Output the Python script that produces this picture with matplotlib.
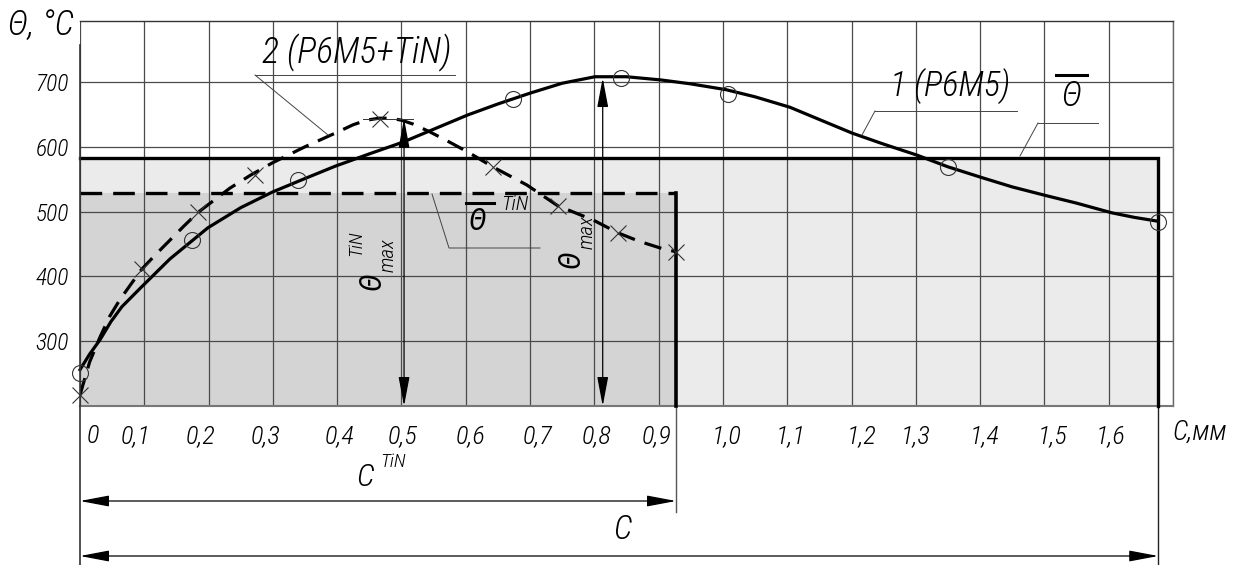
import matplotlib
matplotlib.use('Agg')
import matplotlib.pyplot as plt
from matplotlib import font_manager, transforms
from matplotlib.lines import Line2D

# ---------------- data ----------------
x_grid = [0.0, 0.1, 0.2, 0.3, 0.4, 0.5, 0.6, 0.7, 0.8, 0.9, 1.0,
          1.1, 1.2, 1.3, 1.4, 1.5, 1.6, 1.7]
x_tick_pos = [0.020, 0.086, 0.187, 0.288, 0.404, 0.501, 0.607, 0.711, 0.804,
              0.897, 1.006, 1.106, 1.216, 1.300, 1.407, 1.512, 1.603]
x_tick_labels = ['0', '0,1', '0,2', '0,3', '0,4', '0,5', '0,6', '0,7', '0,8',
                 '0,9', '1,0', '1,1', '1,2', '1,3', '1,4', '1,5', '1,6']
y_ticks = [200, 300, 400, 500, 600, 700]
y_tick_labels = ['', '300', '400', '500', '600', '700']

# curve 1 (Р6М5) - solid line and measured points (circles)
c1_line_x = [0.000, 0.015, 0.031, 0.048, 0.065, 0.096, 0.140, 0.199, 0.250,
             0.299, 0.350, 0.397, 0.450, 0.502, 0.550, 0.603, 0.650, 0.701,
             0.750, 0.801, 0.850, 0.904, 0.950, 1.005, 1.050, 1.104, 1.150,
             1.201, 1.250, 1.302, 1.350, 1.404, 1.450, 1.505, 1.550, 1.605,
             1.640, 1.677]
c1_line_y = [256, 280, 302, 330, 353, 384, 427, 475, 506,
             530, 551, 570, 589, 607, 627, 649, 666, 683,
             698, 708, 708, 703, 697, 688, 677, 661, 642,
             621, 604, 587, 569, 552, 538, 524, 513, 498,
             491, 485]
c1_pts_x = [0.000, 0.174, 0.339, 0.673, 0.841, 1.008, 1.350, 1.677]
c1_pts_y = [251, 456, 549, 674, 706, 681, 569, 484]

# curve 2 (Р6М5+TiN) - dashed line and measured points (crosses)
c2_line_x = [0.000, 0.015, 0.031, 0.046, 0.062, 0.080, 0.096, 0.118, 0.140,
             0.162, 0.184, 0.233, 0.265, 0.299, 0.350, 0.397, 0.425, 0.446,
             0.465, 0.482, 0.500, 0.518, 0.544, 0.575, 0.603, 0.642, 0.695,
             0.743, 0.798, 0.837, 0.870, 0.905, 0.927]
c2_line_y = [217, 268, 306, 338, 364, 389, 411, 434, 456,
             478, 499, 536, 556, 575, 600, 621, 634, 641,
             644, 644, 641, 635, 623, 607, 592, 569, 541,
             509, 487, 467, 454, 443, 438]
c2_pts_x = [0.000, 0.096, 0.184, 0.272, 0.467, 0.642, 0.743, 0.837, 0.927]
c2_pts_y = [217, 411, 499, 556, 643, 569, 509, 467, 438]

theta_mean = 583          # mean temperature, Р6М5
theta_mean_tin = 529      # mean temperature, Р6М5+TiN
c_len = 1.677             # contact length C
c_len_tin = 0.927         # contact length C^TiN
theta_max_x = 0.813
theta_max = 706
theta_max_tin_x = 0.504
theta_max_tin = 643

# ---------------- fonts ----------------
avail = {f.name for f in font_manager.fontManager.ttflist}
FONT = 'DejaVu Sans'
for cand in ['Liberation Sans Narrow', 'Roboto Condensed', 'DejaVu Sans Condensed',
             'Open Sans Condensed', 'DejaVu Sans']:
    if cand in avail:
        FONT = cand
        break
plt.rcParams['font.family'] = [FONT, 'DejaVu Sans']
plt.rcParams['font.style'] = 'italic'
plt.rcParams['font.weight'] = 'light'

W, H = 1240, 565
fig = plt.figure(figsize=(W / 100, H / 100), dpi=100)
ax = fig.add_axes([80 / W, 1 - 406 / H, 1093 / W, 385 / H])
ax.set_xlim(0, 1.7)
ax.set_ylim(200, 794)
ax.xaxis.remove_overlapping_locs = False


def fline(xs, ys, **kw):
    fig.add_artist(Line2D([x / W for x in xs], [1 - y / H for y in ys],
                          transform=fig.transFigure, **kw))


def ftext(px, py, s, **kw):
    kw.setdefault('ha', 'center')
    kw.setdefault('va', 'center')
    kw.setdefault('fontweight', 'light')
    fig.text(px / W, 1 - py / H, s, fontstyle='italic', **kw)


# grid & ticks
ax.set_xticks(x_grid)
ax.set_xticklabels([])
ax.set_xticks(x_tick_pos, x_tick_labels, minor=True)
ax.set_yticks(y_ticks, y_tick_labels)
ax.tick_params(axis='x', which='both', length=0)
ax.tick_params(axis='x', which='minor', pad=13, labelsize=19)
ax.tick_params(axis='y', length=0, pad=8, labelsize=17)
ax.grid(True, which='major', color='#4a4a4a', lw=0.9)
for lab in ax.get_xticklabels(minor=True) + ax.get_yticklabels():
    lab.set_fontstyle('italic')
    lab.set_fontweight('light')

ax.spines['left'].set_visible(False)
ax.spines['top'].set_color('#333333')
ax.spines['top'].set_linewidth(1.0)
ax.spines['right'].set_color('#666666')
ax.spines['right'].set_linewidth(1.0)
ax.spines['bottom'].set_color('#777777')
ax.spines['bottom'].set_linewidth(1.5)

# filled regions
ax.fill_between([0, c_len], 200, theta_mean, color='#ebebeb', lw=0, zorder=0.5)
ax.fill_between([0, c_len_tin], 200, theta_mean_tin, color='#d4d4d4', lw=0, zorder=0.6)

# mean lines (rectangles)
ax.plot([0, c_len, c_len], [theta_mean, theta_mean, 200], color='black', lw=2.4,
        solid_joinstyle='miter', zorder=3, clip_on=False)
ax.plot([0, c_len_tin], [theta_mean_tin, theta_mean_tin], color='black', lw=2.4,
        dashes=(6.5, 3.3), zorder=3)
ax.plot([c_len_tin, c_len_tin], [theta_mean_tin, 200], color='black', lw=2.6,
        zorder=3, clip_on=False)

# curves
ax.plot(c1_line_x, c1_line_y, color='black', lw=2.3, zorder=4, clip_on=False,
        solid_joinstyle='round')
ax.plot(c2_line_x, c2_line_y, color='black', lw=2.3, dashes=(5.5, 3.2), zorder=4)
ax.plot(c1_pts_x, c1_pts_y, ls='none', marker='o', ms=11.5, mfc='none',
        mec='#333333', mew=0.8, zorder=5, clip_on=False)
ax.plot(c2_pts_x, c2_pts_y, ls='none', marker='x', ms=11, mec='#333333',
        mew=0.8, zorder=5, clip_on=False)

# vertical dimension arrows (theta max)
arrow_kw = dict(arrowstyle='<|-|>,head_length=0.9,head_width=0.17', color='black',
                lw=0.9, shrinkA=0, shrinkB=0, mutation_scale=20)
ax.annotate('', xy=(theta_max_x, theta_max), xytext=(theta_max_x, 200),
            arrowprops=arrow_kw, zorder=6, annotation_clip=False)
ax.annotate('', xy=(theta_max_tin_x, theta_max_tin), xytext=(theta_max_tin_x, 200),
            arrowprops=arrow_kw, zorder=6, annotation_clip=False)
fline([363, 413], [119, 119], color='#333333', lw=0.7)

# horizontal dimension arrows below axis (C^TiN, C)
blend = transforms.blended_transform_factory(ax.transData, fig.transFigure)
ax.annotate('', xy=(c_len_tin, 1 - 501 / H), xycoords=blend,
            xytext=(0, 1 - 501 / H), textcoords=blend, arrowprops=arrow_kw,
            annotation_clip=False)
ax.annotate('', xy=(c_len, 1 - 556 / H), xycoords=blend,
            xytext=(0, 1 - 556 / H), textcoords=blend, arrowprops=arrow_kw,
            annotation_clip=False)
# extension lines
ax.plot([c_len_tin, c_len_tin], [1 - 406 / H, 1 - 512 / H], transform=blend,
        color='#555555', lw=1.0, clip_on=False)
ax.plot([c_len, c_len], [1 - 406 / H, 1 - 565 / H], transform=blend,
        color='#222222', lw=1.0, clip_on=False)
fline([80, 80], [45, 565], color='#333333', lw=1.2)

# axis titles
ftext(8, 26, 'Θ, °C', ha='left', fontsize=25)
ftext(1172, 432, 'С,мм', ha='left', fontsize=20)

# curve labels with leaders
ftext(262, 53, '2 (Р6М5+TiN)', ha='left', fontsize=26)
fline([255, 455], [75, 75], color='#444444', lw=0.7)
fline([255, 328], [75, 135], color='#444444', lw=0.7)

ftext(890, 86, '1 (Р6М5)', ha='left', fontsize=25)
fline([875, 1017], [111, 111], color='#444444', lw=0.7)
fline([875, 862], [111, 135], color='#444444', lw=0.7)

# mean theta label
ftext(1071, 96, 'Θ', fontsize=25)
fline([1056, 1087], [75, 75], color='black', lw=2.2)
fline([1038, 1098], [123, 123], color='#444444', lw=0.7)
fline([1038, 1020], [123, 156], color='#444444', lw=0.7)

# mean theta TiN label
ftext(477, 221, 'Θ', fontsize=22, fontweight='normal')
fline([466, 494], [203, 203], color='black', lw=2.2)
ftext(515, 205, 'TiN', fontsize=15)
fline([432, 449, 540], [194, 248, 248], color='#444444', lw=0.7)

# theta max labels (rotated)
ftext(372, 281, 'Θ', fontsize=22, fontweight='normal', rotation=90)
ftext(388, 255, 'max', fontsize=15, rotation=90)
ftext(356, 243, 'TiN', fontsize=14, rotation=90)
ftext(571, 259, 'Θ', fontsize=22, fontweight='normal', rotation=90)
ftext(587, 232, 'max', fontsize=15, rotation=90)

# contact length labels
ftext(365, 477, 'С', fontsize=23)
ftext(393, 462, 'TiN', fontsize=14)
ftext(622, 530, 'С', fontsize=24)

fig.savefig('out.png', dpi=100)
